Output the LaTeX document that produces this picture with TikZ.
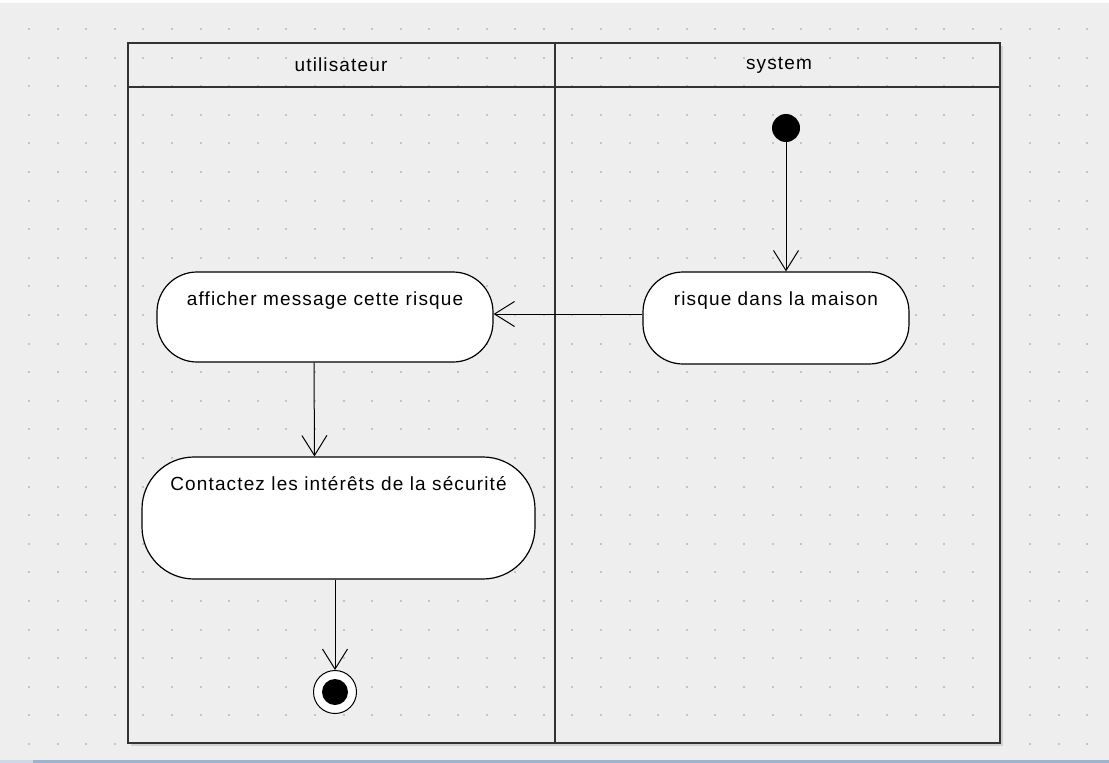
\documentclass[tikz,border=0pt]{standalone}
\usepackage{fontspec}
\setmainfont{Liberation Sans}[LetterSpace=6]
\usetikzlibrary{arrows.meta}
\definecolor{canvas}{HTML}{EEEEEE}
\definecolor{griddot}{HTML}{C4C4C4}
\definecolor{laneline}{HTML}{333333}
\definecolor{taskbar}{HTML}{9DB3CF}

\begin{document}
\begin{tikzpicture}[x=1pt, y=-1pt,
  action/.style={draw=black, fill=white, line width=1.2pt, rounded corners=40pt, inner sep=0pt},
  lbl/.style={anchor=base, yshift=-34pt, font=\fontsize{19}{21}\selectfont},
  flow/.style={-{Straight Barb[length=20pt, width=25pt]}, line width=1pt}]
\useasboundingbox (0,0) rectangle (1109,763);
% canvas and grid
\fill[canvas] (0,0) rectangle (1109,763);
\fill[white] (0,0) rectangle (1109,3);
\fill[taskbar] (0,760) rectangle (1109,763);
\fill[taskbar!50] (0,760) rectangle (33,763);
\foreach \i in {0,...,37}
  \foreach \j in {0,...,25}
    \fill[griddot] ({28+28.6*\i},{28+28.6*\j}) rectangle ++(2,2);
% swimlanes
\draw[black!18, line width=2pt] (1002,46) -- (1002,745) -- (131,745);
\draw[laneline, line width=1.5pt] (128,43) rectangle (1000,743);
\draw[laneline, line width=1.5pt] (128,87) -- (1000,87);
\draw[laneline, line width=1.5pt] (555,43) -- (555,743);
\node[font=\fontsize{19}{21}\selectfont] (lane1) at (341,65) {utilisateur};
\node[font=\fontsize{19}{21}\selectfont] (lane2) at (779,65) {system};
% activities
\node[circle, fill=black, minimum size=28pt, inner sep=0pt] (start) at (786,128) {};
\node[action, minimum width=266pt, minimum height=92pt, label={[lbl]north:risque dans la maison}] (risque) at (776,318) {};
\node[action, minimum width=336pt, minimum height=90pt, label={[lbl]north:afficher message cette risque}] (afficher) at (325,317) {};
\node[action, rounded corners=52pt, minimum width=393pt, minimum height=122pt, label={[lbl]north:Contactez les intérêts de la sécurité}] (contact) at (338.5,518) {};
\node[circle, draw=black, fill=white, line width=1pt, minimum size=43pt, inner sep=0pt] (end) at (335,692) {};
\node[circle, fill=black, minimum size=26pt, inner sep=0pt] (endin) at (end) {};
% flows
\draw[flow] (start) -- (start |- risque.north);
\draw[flow] ([yshift=4pt]risque.west) -- ([yshift=3pt]afficher.east);
\draw[flow] ([xshift=-11pt]afficher.south) -- ([xshift=-24pt]contact.north);
\draw[flow] (contact.south -| end) -- (end);
\end{tikzpicture}
\end{document}
